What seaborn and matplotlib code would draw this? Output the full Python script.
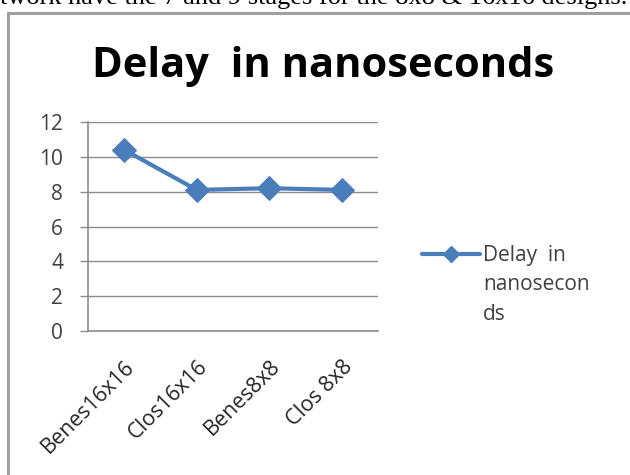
import matplotlib
matplotlib.use("Agg")
import matplotlib.pyplot as plt
import seaborn as sns
import pandas as pd
from matplotlib.patches import Rectangle
from matplotlib.lines import Line2D

# chart data
designs = ["Benes16x16", "Clos16x16", "Benes8x8", "Clos 8x8"]
delay_ns = [10.4, 8.1, 8.2, 8.1]
y_ticks = [0, 2, 4, 6, 8, 10, 12]
series_name = "Delay  in nanoseconds"
legend_lines = ["Delay  in", "nanosecon", "ds"]

df = pd.DataFrame({"design": designs, "delay": delay_ns})

sns.set_theme(style="white")
plt.rcParams["font.family"] = ["Open Sans", "DejaVu Sans"]

fig = plt.figure(figsize=(6.3, 4.75), dpi=100, facecolor="white")
W, H = 630, 475
blue = "#4A7EBB"
grey = "#8c8c8c"

# clipped line of document text above the chart
fig.text(627 / W, 1 - 4 / H, "twork have the 7 and 9 stages for the 8x8 & 16x16 designs.",
         ha="right", va="baseline", fontsize=19, family="Liberation Serif", color="black")

# chart frame (cut at right and bottom)
fig.patches.append(Rectangle((8 / W, -0.1), 1.0, 1 - 13 / H + 0.1, transform=fig.transFigure,
                             fill=False, edgecolor="#a0a0a0", linewidth=2.2))

ax = fig.add_axes([88 / W, 1 - 331 / H, 290 / W, 209 / H])
sns.lineplot(data=df, x="design", y="delay", ax=ax, color=blue, linewidth=3,
             marker="D", markersize=12, markeredgecolor=blue, sort=False)

ax.set_xlim(-0.5, len(designs) - 0.5)
ax.set_ylim(0, 12)
ax.set_yticks(y_ticks)
ax.set_yticklabels([str(t) for t in y_ticks], fontsize=15, color="#404040")
ax.yaxis.grid(True, color=grey, linewidth=1)
ax.set_axisbelow(True)
ax.set_xlabel("")
ax.set_ylabel("")

ax.set_xticks(range(len(designs)))
ax.set_xticklabels(designs, rotation=45, ha="right", rotation_mode="anchor",
                   fontsize=15.5, color="#262626")
ax.tick_params(axis="x", which="major", length=0, pad=18)
ax.set_xticks([i - 0.5 for i in range(len(designs) + 1)], minor=True)
ax.tick_params(axis="x", which="minor", length=6, color=grey, width=1, direction="out")
ax.tick_params(axis="y", length=6, color=grey, width=1, direction="out", left=True, pad=12)

for s in ["top", "right"]:
    ax.spines[s].set_visible(False)
for s in ["left", "bottom"]:
    ax.spines[s].set_color(grey)
    ax.spines[s].set_linewidth(1.2)

fig.text(323 / W, 1 - 77 / H, series_name, ha="center", va="baseline",
         fontsize=30, fontweight="bold", color="black")

# legend: handle next to the first line, label wraps below
handle = Line2D([], [], color=blue, linewidth=3, marker="D", markersize=8)
fig.legend([handle], [legend_lines[0]], loc="center left",
           bbox_to_anchor=(422 / W, 1 - 256 / H), frameon=False, fontsize=15,
           handlelength=2.8, handletextpad=0.15, labelcolor="#404040",
           borderpad=0, borderaxespad=0)
for i, line in enumerate(legend_lines[1:], start=1):
    fig.text(483 / W, 1 - (256 + 29 * i) / H, line, ha="left", va="center",
             fontsize=15, color="#404040")

fig.savefig("out.png", dpi=100, facecolor="white")
